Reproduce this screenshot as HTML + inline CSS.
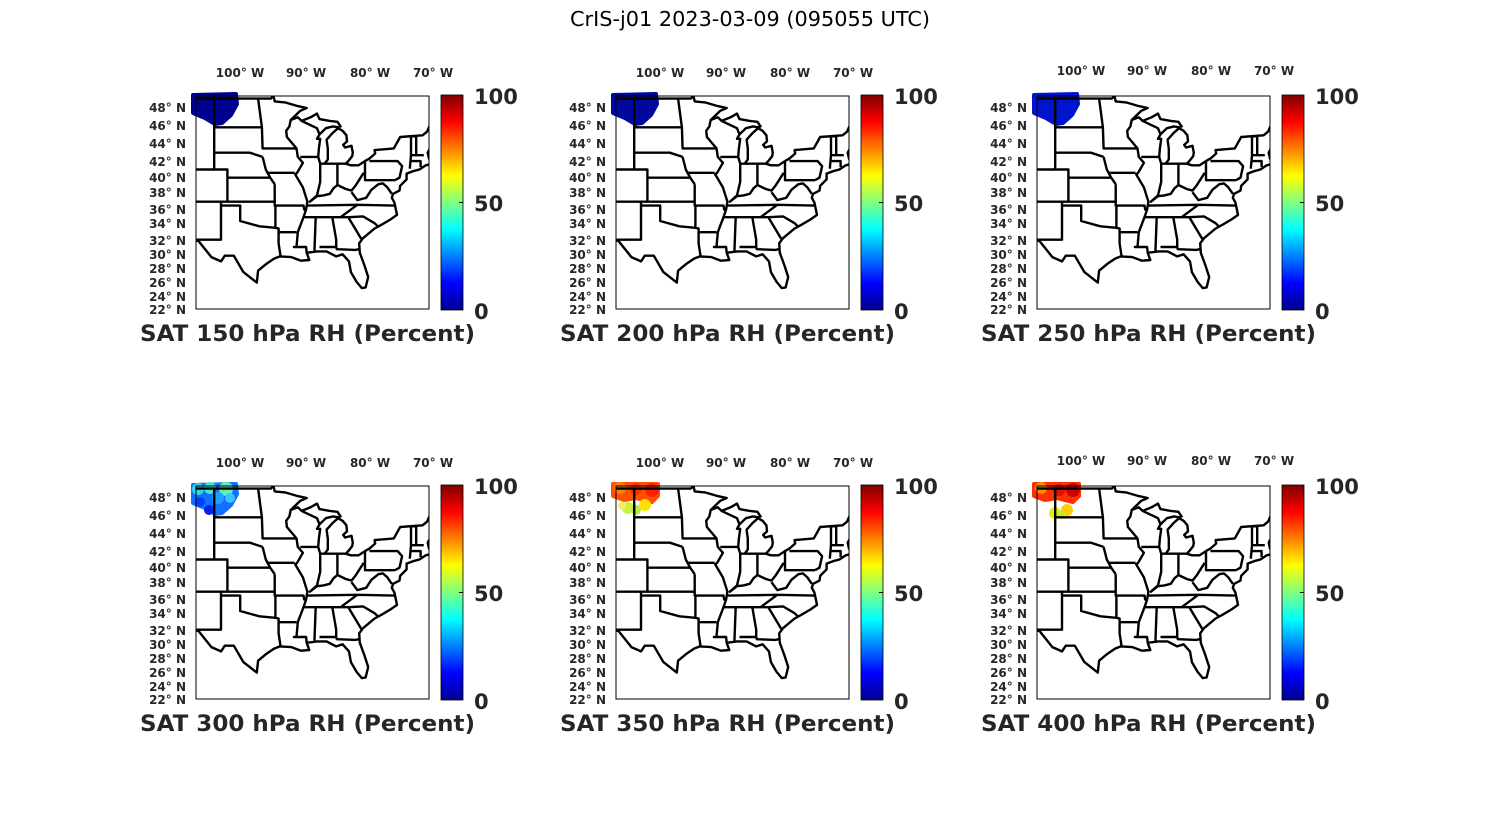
<!DOCTYPE html>
<html><head><meta charset="utf-8"><style>
html,body{margin:0;padding:0;background:#fff;}
svg{display:block;}
.t{font-family:"DejaVu Sans","Liberation Sans",sans-serif;font-weight:bold;fill:#262626;}
</style></head><body>
<svg id="s" width="1500" height="825" viewBox="0 0 1500 825" xmlns="http://www.w3.org/2000/svg">
<defs>
<linearGradient id="jet" x1="0" y1="1" x2="0" y2="0">
<stop offset="0" stop-color="#00008f"/><stop offset="0.125" stop-color="#0000ff"/>
<stop offset="0.375" stop-color="#00ffff"/><stop offset="0.625" stop-color="#ffff00"/>
<stop offset="0.875" stop-color="#ff0000"/><stop offset="1" stop-color="#800000"/>
</linearGradient>
<clipPath id="bx"><rect x="0" y="0" width="233" height="213"/></clipPath>
<g id="map"><g clip-path="url(#bx)"><path id="mp" fill="none" stroke="#000" stroke-width="2.4" stroke-linejoin="round" d=""/></g><rect x="0" y="0" width="233" height="213" fill="none" stroke="#000" stroke-width="1"/></g>
<g id="cb"><rect x="245" y="-1" width="22" height="215" fill="url(#jet)" stroke="#000" stroke-width="0.8"/>
<line x1="263" y1="106.5" x2="267" y2="106.5" stroke="#000"/></g>
</defs>
<text x="750" y="26" text-anchor="middle" font-family="DejaVu Sans,Liberation Sans,sans-serif" font-size="20" fill="#000" textLength="360" lengthAdjust="spacingAndGlyphs">CrIS-j01 2023-03-09 (095055 UTC)</text>
</svg>
<script>
var svg=document.getElementById('s');var NS='http://www.w3.org/2000/svg';
function merc(l){return Math.log(Math.tan(Math.PI/4+l*Math.PI/360));}
function P(lon,lat){return [((lon+106.9)*6.4).toFixed(1),(12+358.3*(0.9575-merc(lat))).toFixed(1)];}
var L=[
[[-106.9,31.9],[-106.5,31.8],[-104.5,29.6],[-103,29],[-102.4,29.8],[-101,29.8],[-99.5,27.5],[-97.4,26],[-97.2,27.7],[-96,28.6],[-94.7,29.4],[-93.8,29.7],[-92,29.6],[-90.5,29.1],[-89.2,29.2],[-89.6,30.2],[-88,30.4],[-86.5,30.4],[-85,29.7],[-84,30],[-83,29],[-82.7,27.5],[-81.8,26.1],[-81,25.2],[-80.4,25.3],[-80,26.8],[-80.6,28.5],[-81.3,30.2],[-81.4,31.5],[-80.8,32.2],[-79,33.5],[-77.9,34],[-76.5,34.7],[-75.5,35.3],[-75.9,36.9],[-76.3,37.5],[-76.1,38],[-75.1,38.4],[-75,39],[-74,39.8],[-74,40.5],[-73,40.8],[-72,41],[-71,41.5],[-70,41.7],[-70.5,42.3],[-70.7,43],[-70.2,43.7],[-69,44.2],[-67.5,44.5]],
[[-106.9,49],[-95.2,49],[-94.8,49.3],[-94.6,48.7],[-93,48.6],[-91,48.2],[-89.6,48],[-90.6,47.7],[-92.1,46.7],[-91,47],[-90.4,46.6],[-89,47],[-88,47.4],[-87.6,46.8],[-86,46.6],[-84.8,46.5],[-84.3,46],[-84.7,45.9],[-85.5,46],[-86.6,45.8],[-87.6,45.1],[-88,44.6],[-87.5,44.6],[-87.7,43.5],[-87.8,42.5],[-87.5,41.7],[-86.8,41.7],[-86.3,42.2],[-86.3,43.5],[-86.5,44.5],[-85.5,45.3],[-84.7,45.8],[-84,45.5],[-83.4,45],[-83.3,44.3],[-83.9,43.9],[-83.6,43.6],[-82.6,43.8],[-82.4,43],[-82.5,42.6],[-83.1,42],[-83.5,41.7],[-82.7,41.5],[-81.5,41.5],[-80.5,42],[-79.8,42.3],[-78.9,42.9],[-79,43.3],[-76,43.5],[-75,44.8],[-71.5,45],[-70.8,45.4],[-70,46.7],[-69.2,47.4],[-67.8,47]],
[[-104.05,49],[-104.05,41],[-106.9,41]],[[-104.05,45.9],[-96.6,45.9]],[[-104.05,43],[-98.5,43],[-96.5,42.5]],
[[-104.05,41],[-102,41],[-102,37],[-106.9,37]],[[-102,40],[-95.3,40]],[[-102,37],[-94.6,37]],
[[-103,37],[-103,32],[-106.9,32]],[[-103,36.5],[-100,36.5],[-100,34.5],[-97,33.8],[-94.5,33.6],[-94,33.5],[-94,31.5],[-93.7,29.8]],
[[-97.2,49],[-96.6,45.9],[-96.5,43.5],[-91.2,43.5]],[[-96.5,42.5],[-96,41],[-95.3,40],[-94.6,39.2]],[[-95.8,40.6],[-91.5,40.6]],
[[-94.6,39.2],[-94.6,36.5],[-90.1,36.5],[-90,36],[-89.7,36]],[[-94.5,36.5],[-94.5,33.6]],[[-94,33],[-91.2,33]],
[[-92.1,46.7],[-92.3,46],[-92.8,45.5],[-92.7,44.8],[-91.2,43.5],[-91,42.5],[-90.2,41.8],[-91.1,40.6],[-91.4,40.4],[-90.2,38.8],[-89.5,37],[-89.7,36],[-90.1,35],[-91,33],[-91.2,31],[-91.6,31],[-89.7,31],[-89.6,30.2]],
[[-90.6,42.5],[-87.8,42.5]],[[-90.4,46.6],[-88,45.8],[-87.6,45.1]],
[[-87.5,41.7],[-87.5,39.5],[-88,37.8],[-89.1,37],[-88,37.7],[-87,37.8],[-86,38],[-85.4,38.7],[-84.8,39.1],[-83.5,38.6],[-82.6,38.4],[-82,39],[-80.7,40.6]],
[[-84.8,41.7],[-84.8,39.1]],[[-87.5,41.7],[-83.5,41.7]],
[[-89.5,36.5],[-81.7,36.6],[-75.9,36.5]],[[-81.7,36.6],[-84.3,35]],[[-90.2,35],[-83.1,35],[-80.8,35.1],[-79,34.2],[-78.5,33.8]],
[[-83.1,35],[-81,32]],[[-88.2,35],[-88.4,30.3]],[[-85.6,35],[-85,32],[-85,31],[-84.9,30.7],[-82,30.6],[-81.5,30.7]],[[-87.6,31],[-85,31]],
[[-82.6,38.2],[-81.7,37.2],[-80.3,37.5],[-79.5,38.5],[-78.4,39.2],[-77.7,39.3],[-77,38.8],[-76.3,38]],
[[-80.5,42],[-80.5,39.7],[-75.8,39.7]],[[-79.8,42],[-75.4,42],[-74.7,41.4],[-75.1,40],[-75.8,39.7]],
[[-73.3,45],[-73.3,42.7],[-73.5,41.1]],[[-73.3,42.7],[-71.3,42.7]],[[-72.5,45],[-72.5,42.7]],[[-73.5,42],[-71.8,42],[-71.8,41.3]]
];
var d='';L.forEach(function(a){a.forEach(function(p,i){var q=P(p[0],p[1]);d+=(i?'L':'M')+q[0]+','+q[1];});});
document.getElementById('mp').setAttribute('d',d);
var panels=[[196,96,'b1'],[616,96,'b2'],[1037,96,'b3'],[196,486,'b4'],[616,486,'b5'],[1037,486,'b6']];
var blob='M-3,-1 L40,-2 L41,8 L35,19 L26,27 L19,28 L9,22 L-3,17 Z';
var fills={b1:[['p','#00008f']],b2:[['p','#0008a0']],b3:[['p','#0014d0']],
b4:[['p','#1070ff'],['c',2,3,6,'#30d8e8'],['c',14,2,6,'#40e8d0'],['c',30,3,7,'#60f0b0'],['c',22,12,6,'#20a0ff'],['c',4,16,5,'#0040ff'],['c',13,24,5,'#0020f0'],['c',34,12,5,'#40c0ff']],
b5:[['p2','#ff5000'],['c',4,2,6,'#ff8000'],['c',20,3,6,'#ff3000'],['c',36,4,7,'#ff2000'],['c',12,22,6,'#d0f040'],['c',20,24,5,'#b0f040'],['c',29,19,6,'#ffe000'],['c',6,20,4,'#f0f060']],
b6:[['p2','#ff3000'],['c',4,2,6,'#ff9000'],['c',22,4,6,'#e01000'],['c',36,4,7,'#d00000'],['c',18,27,6,'#e0f000'],['c',30,24,6,'#ffd000'],['c',24,29,4,'#c0f020']]};
panels.forEach(function(pp){
 var g=document.createElementNS(NS,'g');g.setAttribute('transform','translate('+pp[0]+','+pp[1]+')');
 var h='<rect x="0" y="0" width="233" height="213" fill="#fff"/><use href="#cb"/>';
 fills[pp[2]].forEach(function(f){
  if(f[0]=='p')h+='<path d="'+blob+'" fill="'+f[1]+'" stroke="'+f[1]+'" stroke-width="4" stroke-linejoin="round"/>';
  else if(f[0]=='p2')h+='<path d="M-3,-2 L42,-2 L42,10 L36,16 L20,12 L8,14 L-3,10 Z" fill="'+f[1]+'" stroke="'+f[1]+'" stroke-width="4" stroke-linejoin="round"/>';
  else h+='<circle cx="'+f[1]+'" cy="'+f[2]+'" r="'+f[3]+'" fill="'+f[4]+'"/>';
 });
 h+='<use href="#map"/>';
 g.innerHTML=h;svg.appendChild(g);
});
</script>
<svg width="1500" height="825" style="position:absolute;left:0;top:0" xmlns="http://www.w3.org/2000/svg">
<g class="t">
<g transform="translate(196,96)">
<text x="-56" y="245" font-size="22" textLength="335" lengthAdjust="spacingAndGlyphs">SAT 150 hPa RH (Percent)</text>
<g font-size="21"><text x="278" y="8">100</text><text x="278" y="115">50</text><text x="278" y="223">0</text></g>
<g font-size="12" text-anchor="middle"><text x="44" y="-19">100° W</text><text x="110" y="-19">90° W</text><text x="174" y="-19">80° W</text><text x="237" y="-19">70° W</text></g>
<g font-size="12" text-anchor="end"><text x="-10" y="16">48° N</text><text x="-10" y="34">46° N</text><text x="-10" y="52">44° N</text><text x="-10" y="70">42° N</text><text x="-10" y="86">40° N</text><text x="-10" y="101">38° N</text><text x="-10" y="118">36° N</text><text x="-10" y="132">34° N</text><text x="-10" y="149">32° N</text><text x="-10" y="163">30° N</text><text x="-10" y="177">28° N</text><text x="-10" y="191">26° N</text><text x="-10" y="205">24° N</text><text x="-10" y="218">22° N</text></g>
</g>
<g transform="translate(616,96)">
<text x="-56" y="245" font-size="22" textLength="335" lengthAdjust="spacingAndGlyphs">SAT 200 hPa RH (Percent)</text>
<g font-size="21"><text x="278" y="8">100</text><text x="278" y="115">50</text><text x="278" y="223">0</text></g>
<g font-size="12" text-anchor="middle"><text x="44" y="-19">100° W</text><text x="110" y="-19">90° W</text><text x="174" y="-19">80° W</text><text x="237" y="-19">70° W</text></g>
<g font-size="12" text-anchor="end"><text x="-10" y="16">48° N</text><text x="-10" y="34">46° N</text><text x="-10" y="52">44° N</text><text x="-10" y="70">42° N</text><text x="-10" y="86">40° N</text><text x="-10" y="101">38° N</text><text x="-10" y="118">36° N</text><text x="-10" y="132">34° N</text><text x="-10" y="149">32° N</text><text x="-10" y="163">30° N</text><text x="-10" y="177">28° N</text><text x="-10" y="191">26° N</text><text x="-10" y="205">24° N</text><text x="-10" y="218">22° N</text></g>
</g>
<g transform="translate(1037,96)">
<text x="-56" y="245" font-size="22" textLength="335" lengthAdjust="spacingAndGlyphs">SAT 250 hPa RH (Percent)</text>
<g font-size="21"><text x="278" y="8">100</text><text x="278" y="115">50</text><text x="278" y="223">0</text></g>
<g font-size="12" text-anchor="middle"><text x="44" y="-21">100° W</text><text x="110" y="-21">90° W</text><text x="174" y="-21">80° W</text><text x="237" y="-21">70° W</text></g>
<g font-size="12" text-anchor="end"><text x="-10" y="16">48° N</text><text x="-10" y="34">46° N</text><text x="-10" y="52">44° N</text><text x="-10" y="70">42° N</text><text x="-10" y="86">40° N</text><text x="-10" y="101">38° N</text><text x="-10" y="118">36° N</text><text x="-10" y="132">34° N</text><text x="-10" y="149">32° N</text><text x="-10" y="163">30° N</text><text x="-10" y="177">28° N</text><text x="-10" y="191">26° N</text><text x="-10" y="205">24° N</text><text x="-10" y="218">22° N</text></g>
</g>
<g transform="translate(196,486)">
<text x="-56" y="245" font-size="22" textLength="335" lengthAdjust="spacingAndGlyphs">SAT 300 hPa RH (Percent)</text>
<g font-size="21"><text x="278" y="8">100</text><text x="278" y="115">50</text><text x="278" y="223">0</text></g>
<g font-size="12" text-anchor="middle"><text x="44" y="-19">100° W</text><text x="110" y="-19">90° W</text><text x="174" y="-19">80° W</text><text x="237" y="-19">70° W</text></g>
<g font-size="12" text-anchor="end"><text x="-10" y="16">48° N</text><text x="-10" y="34">46° N</text><text x="-10" y="52">44° N</text><text x="-10" y="70">42° N</text><text x="-10" y="86">40° N</text><text x="-10" y="101">38° N</text><text x="-10" y="118">36° N</text><text x="-10" y="132">34° N</text><text x="-10" y="149">32° N</text><text x="-10" y="163">30° N</text><text x="-10" y="177">28° N</text><text x="-10" y="191">26° N</text><text x="-10" y="205">24° N</text><text x="-10" y="218">22° N</text></g>
</g>
<g transform="translate(616,486)">
<text x="-56" y="245" font-size="22" textLength="335" lengthAdjust="spacingAndGlyphs">SAT 350 hPa RH (Percent)</text>
<g font-size="21"><text x="278" y="8">100</text><text x="278" y="115">50</text><text x="278" y="223">0</text></g>
<g font-size="12" text-anchor="middle"><text x="44" y="-19">100° W</text><text x="110" y="-19">90° W</text><text x="174" y="-19">80° W</text><text x="237" y="-19">70° W</text></g>
<g font-size="12" text-anchor="end"><text x="-10" y="16">48° N</text><text x="-10" y="34">46° N</text><text x="-10" y="52">44° N</text><text x="-10" y="70">42° N</text><text x="-10" y="86">40° N</text><text x="-10" y="101">38° N</text><text x="-10" y="118">36° N</text><text x="-10" y="132">34° N</text><text x="-10" y="149">32° N</text><text x="-10" y="163">30° N</text><text x="-10" y="177">28° N</text><text x="-10" y="191">26° N</text><text x="-10" y="205">24° N</text><text x="-10" y="218">22° N</text></g>
</g>
<g transform="translate(1037,486)">
<text x="-56" y="245" font-size="22" textLength="335" lengthAdjust="spacingAndGlyphs">SAT 400 hPa RH (Percent)</text>
<g font-size="21"><text x="278" y="8">100</text><text x="278" y="115">50</text><text x="278" y="223">0</text></g>
<g font-size="12" text-anchor="middle"><text x="44" y="-21">100° W</text><text x="110" y="-21">90° W</text><text x="174" y="-21">80° W</text><text x="237" y="-21">70° W</text></g>
<g font-size="12" text-anchor="end"><text x="-10" y="16">48° N</text><text x="-10" y="34">46° N</text><text x="-10" y="52">44° N</text><text x="-10" y="70">42° N</text><text x="-10" y="86">40° N</text><text x="-10" y="101">38° N</text><text x="-10" y="118">36° N</text><text x="-10" y="132">34° N</text><text x="-10" y="149">32° N</text><text x="-10" y="163">30° N</text><text x="-10" y="177">28° N</text><text x="-10" y="191">26° N</text><text x="-10" y="205">24° N</text><text x="-10" y="218">22° N</text></g>
</g>
</g>
</svg>
</body></html>
